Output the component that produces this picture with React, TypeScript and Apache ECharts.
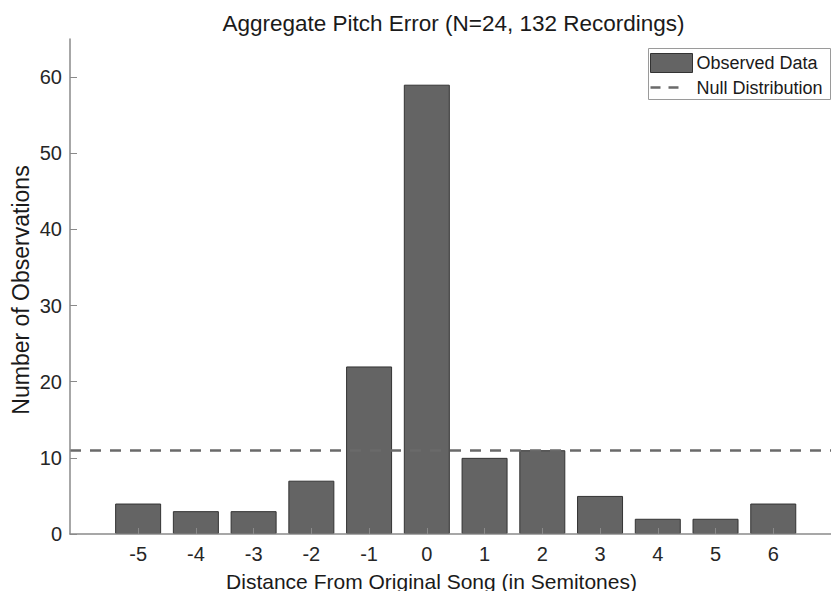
import React, { useEffect, useRef } from "react";
import * as echarts from "echarts";

const categories = [-5, -4, -3, -2, -1, 0, 1, 2, 3, 4, 5, 6];
const observed = [4, 3, 3, 7, 22, 59, 10, 11, 5, 2, 2, 4];
const nullLevel = 11;
const yTicks = [0, 10, 20, 30, 40, 50, 60];
const titleText = "Aggregate Pitch Error (N=24, 132 Recordings)";
const xName = "Distance From Original Song (in Semitones)";
const yName = "Number of Observations";
const legendNames = ["Observed Data", "Null Distribution"];

const FONT = "'Liberation Sans', Arial, Helvetica, sans-serif";

export default function App() {
  const ref = useRef<HTMLDivElement>(null);
  useEffect(() => {
    if (!ref.current) return;
    const chart = echarts.init(ref.current, undefined, { renderer: "svg" });
    chart.setOption({
      animation: false,
      backgroundColor: "#ffffff",
      textStyle: { fontFamily: FONT },
      grid: { left: 70, right: 0, top: 39, bottom: 57, containLabel: false },
      xAxis: {
        type: "value",
        min: -6.18,
        max: 7,
        z: 5,
        axisLine: { show: true, onZero: false, lineStyle: { color: "#8a8a8a", width: 1.5 } },
        axisTick: { show: true, inside: true, length: 6, customValues: categories, lineStyle: { color: "#8a8a8a" } },
        axisLabel: { customValues: categories, margin: 10, fontSize: 20, color: "#262626", fontFamily: FONT },
        splitLine: { show: false },
      },
      yAxis: {
        type: "value",
        min: 0,
        max: 65,
        z: 5,
        axisLine: { show: true, onZero: false, lineStyle: { color: "#8a8a8a", width: 1.5 } },
        axisTick: { show: true, inside: true, length: 7, customValues: yTicks, lineStyle: { color: "#8a8a8a" } },
        axisLabel: { customValues: yTicks, margin: 8, fontSize: 20, color: "#262626", fontFamily: FONT },
        splitLine: { show: false },
      },
      series: [
        {
          name: legendNames[0],
          type: "bar",
          data: categories.map((c, i) => [c, observed[i]]),
          barWidth: 46,
          itemStyle: { color: "#646464", borderColor: "#333333", borderWidth: 1 },
          z: 2,
          markLine: {
            silent: true,
            symbol: "none",
            label: { show: false },
            lineStyle: { color: "#6a6a6a", width: 2.5, type: [11, 9] },
            data: [{ yAxis: nullLevel }],
            z: 5,
          },
        },
      ],
      graphic: [
        {
          type: "text",
          x: 453.5,
          y: 23,
          style: { text: titleText, fontSize: 22.5, fill: "#1a1a1a", fontFamily: FONT, align: "center", verticalAlign: "middle" },
        },
        {
          type: "text",
          x: 431.5,
          y: 581,
          style: { text: xName, fontSize: 21, fill: "#1a1a1a", fontFamily: FONT, align: "center", verticalAlign: "middle" },
        },
        {
          type: "text",
          x: 21,
          y: 290,
          rotation: Math.PI / 2,
          style: { text: yName, fontSize: 23, fill: "#1a1a1a", fontFamily: FONT, align: "center", verticalAlign: "middle" },
        },
        {
          type: "group",
          left: 648,
          top: 48,
          z: 20,
          children: [
            { type: "rect", shape: { x: 0, y: 0, width: 182, height: 51 }, style: { fill: "#ffffff", stroke: "#9a9a9a", lineWidth: 1 } },
            { type: "rect", shape: { x: 2, y: 5, width: 42, height: 19 }, style: { fill: "#646464", stroke: "#333333", lineWidth: 1 } },
            { type: "text", x: 48, y: 14.5, style: { text: legendNames[0], fontSize: 18, fill: "#1a1a1a", fontFamily: FONT, verticalAlign: "middle" } },
            { type: "line", shape: { x1: 2, y1: 39, x2: 38, y2: 39 }, style: { stroke: "#6a6a6a", lineWidth: 2.5, lineDash: [10, 8] } },
            { type: "text", x: 48, y: 39, style: { text: legendNames[1], fontSize: 18, fill: "#1a1a1a", fontFamily: FONT, verticalAlign: "middle" } },
          ],
        },
      ],
    });
    return () => chart.dispose();
  }, []);
  return <div ref={ref} style={{ width: 831, height: 591, position: "absolute", left: 0, top: 0 }} />;
}
